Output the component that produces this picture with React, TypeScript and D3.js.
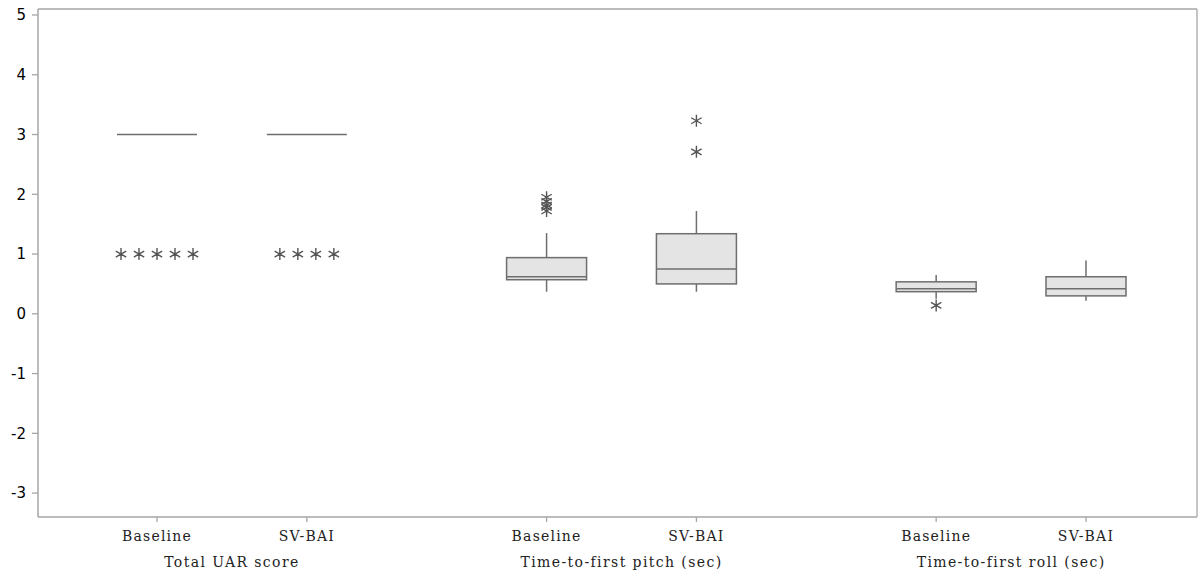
import React from "react";
import * as d3 from "d3";

const groups = ["Total UAR score", "Time-to-first pitch (sec)", "Time-to-first roll (sec)"];
const conditions = ["Baseline", "SV-BAI"];

// per box, order: UAR-Baseline, UAR-SV, Pitch-Baseline, Pitch-SV, Roll-Baseline, Roll-SV
const whiskerLow = [3, 3, 0.37, 0.37, 0.25, 0.22];
const q1 = [3, 3, 0.57, 0.5, 0.37, 0.3];
const median = [3, 3, 0.62, 0.75, 0.42, 0.42];
const q3 = [3, 3, 0.94, 1.34, 0.535, 0.62];
const whiskerHigh = [3, 3, 1.35, 1.72, 0.65, 0.89];
const outliers: number[][] = [
  [1, 1, 1, 1, 1],
  [1, 1, 1, 1],
  [1.95, 1.88, 1.82, 1.78, 1.72],
  [3.23, 2.71],
  [0.14],
  [],
];

const yTicks = [-3, -2, -1, 0, 1, 2, 3, 4, 5];

const W = 1199;
const H = 577;
const left = 38;
const right = 1197;
const top = 9;
const bottom = 517;

const y = d3.scaleLinear().domain([-3.4, 5.1]).range([bottom, top]);
const x = d3.scaleLinear().domain([0, 6.2]).range([157, 1086]);
const GROUP_STEP = 2.6;
const HALF = 40;
const TIE_GAP = 18;

const boxStroke = "#6e6e6e";
const axisColor = "#a6a6a6";

function Asterisk({ cx, cy }: { cx: number; cy: number }) {
  const r = 6;
  const angles = [90, 30, 150];
  const d = angles
    .map((a) => {
      const rad = (a * Math.PI) / 180;
      const dx = Math.cos(rad) * r;
      const dy = Math.sin(rad) * r;
      return `M${cx - dx},${cy - dy}L${cx + dx},${cy + dy}`;
    })
    .join("");
  return <path d={d} stroke="#555" strokeWidth={1.4} fill="none" />;
}

export default function App() {
  const boxes = groups.flatMap((g, gi) =>
    conditions.map((c, ci) => ({ g, c, gi, ci, idx: gi * 2 + ci, pos: gi * GROUP_STEP + ci }))
  );

  return (
    <svg
      width={W}
      height={H}
      style={{ position: "absolute", left: 0, top: 0, background: "#fff" }}
    >
      {/* frame */}
      <line x1={left} x2={right} y1={top} y2={top} stroke={axisColor} strokeWidth={1.3} />
      <line x1={right} x2={right} y1={top} y2={bottom} stroke={axisColor} strokeWidth={1.3} />
      <line x1={left} x2={left} y1={top} y2={bottom} stroke={axisColor} strokeWidth={1.5} />
      <line x1={left} x2={right} y1={bottom} y2={bottom} stroke={axisColor} strokeWidth={1.5} />

      {/* y ticks */}
      {yTicks.map((t) => (
        <g key={t}>
          <line x1={left - 6} x2={left} y1={y(t)} y2={y(t)} stroke={axisColor} strokeWidth={1.3} />
          <text
            x={left - 12}
            y={y(t)}
            dy="0.35em"
            textAnchor="end"
            fontFamily="'DejaVu Sans', sans-serif"
            fontSize={15}
            fill="#000"
          >
            {t}
          </text>
        </g>
      ))}

      {/* x ticks and labels */}
      {boxes.map((b) => (
        <g key={"xt" + b.idx}>
          <line x1={x(b.pos)} x2={x(b.pos)} y1={bottom} y2={bottom + 5} stroke={axisColor} strokeWidth={1.3} />
          <text
            x={x(b.pos)}
            y={541}
            textAnchor="middle"
            fontFamily="'DejaVu Serif', serif"
            fontSize={14}
            letterSpacing={1.2}
            fill="#222"
          >
            {b.c}
          </text>
        </g>
      ))}
      {groups.map((g, gi) => (
        <text
          key={g}
          x={x(gi * GROUP_STEP + 0.5)}
          y={567}
          textAnchor="middle"
          fontFamily="'DejaVu Serif', serif"
          fontSize={14}
          letterSpacing={1.4}
          fill="#222"
        >
          {g}
        </text>
      ))}

      {/* boxes */}
      {boxes.map((b) => {
        const i = b.idx;
        const cx = x(b.pos);
        const degenerate = q1[i] === q3[i];
        const counts = d3.rollup(outliers[i], (v) => v.length, (v) => v);
        const seen = new Map<number, number>();
        return (
          <g key={"b" + i}>
            {!degenerate && (
              <>
                <line x1={cx} x2={cx} y1={y(q3[i])} y2={y(whiskerHigh[i])} stroke={boxStroke} strokeWidth={1.5} />
                <line x1={cx} x2={cx} y1={y(q1[i])} y2={y(whiskerLow[i])} stroke={boxStroke} strokeWidth={1.5} />
                <rect
                  x={cx - HALF}
                  y={y(q3[i])}
                  width={HALF * 2}
                  height={y(q1[i]) - y(q3[i])}
                  fill="#e4e4e4"
                  stroke={boxStroke}
                  strokeWidth={1.5}
                />
              </>
            )}
            <line x1={cx - HALF} x2={cx + HALF} y1={y(median[i])} y2={y(median[i])} stroke={boxStroke} strokeWidth={1.5} />
            {outliers[i].map((v, k) => {
              const n = counts.get(v) || 1;
              const j = seen.get(v) || 0;
              seen.set(v, j + 1);
              const ox = cx + (j - (n - 1) / 2) * TIE_GAP;
              return <Asterisk key={k} cx={ox} cy={y(v)} />;
            })}
          </g>
        );
      })}
    </svg>
  );
}
